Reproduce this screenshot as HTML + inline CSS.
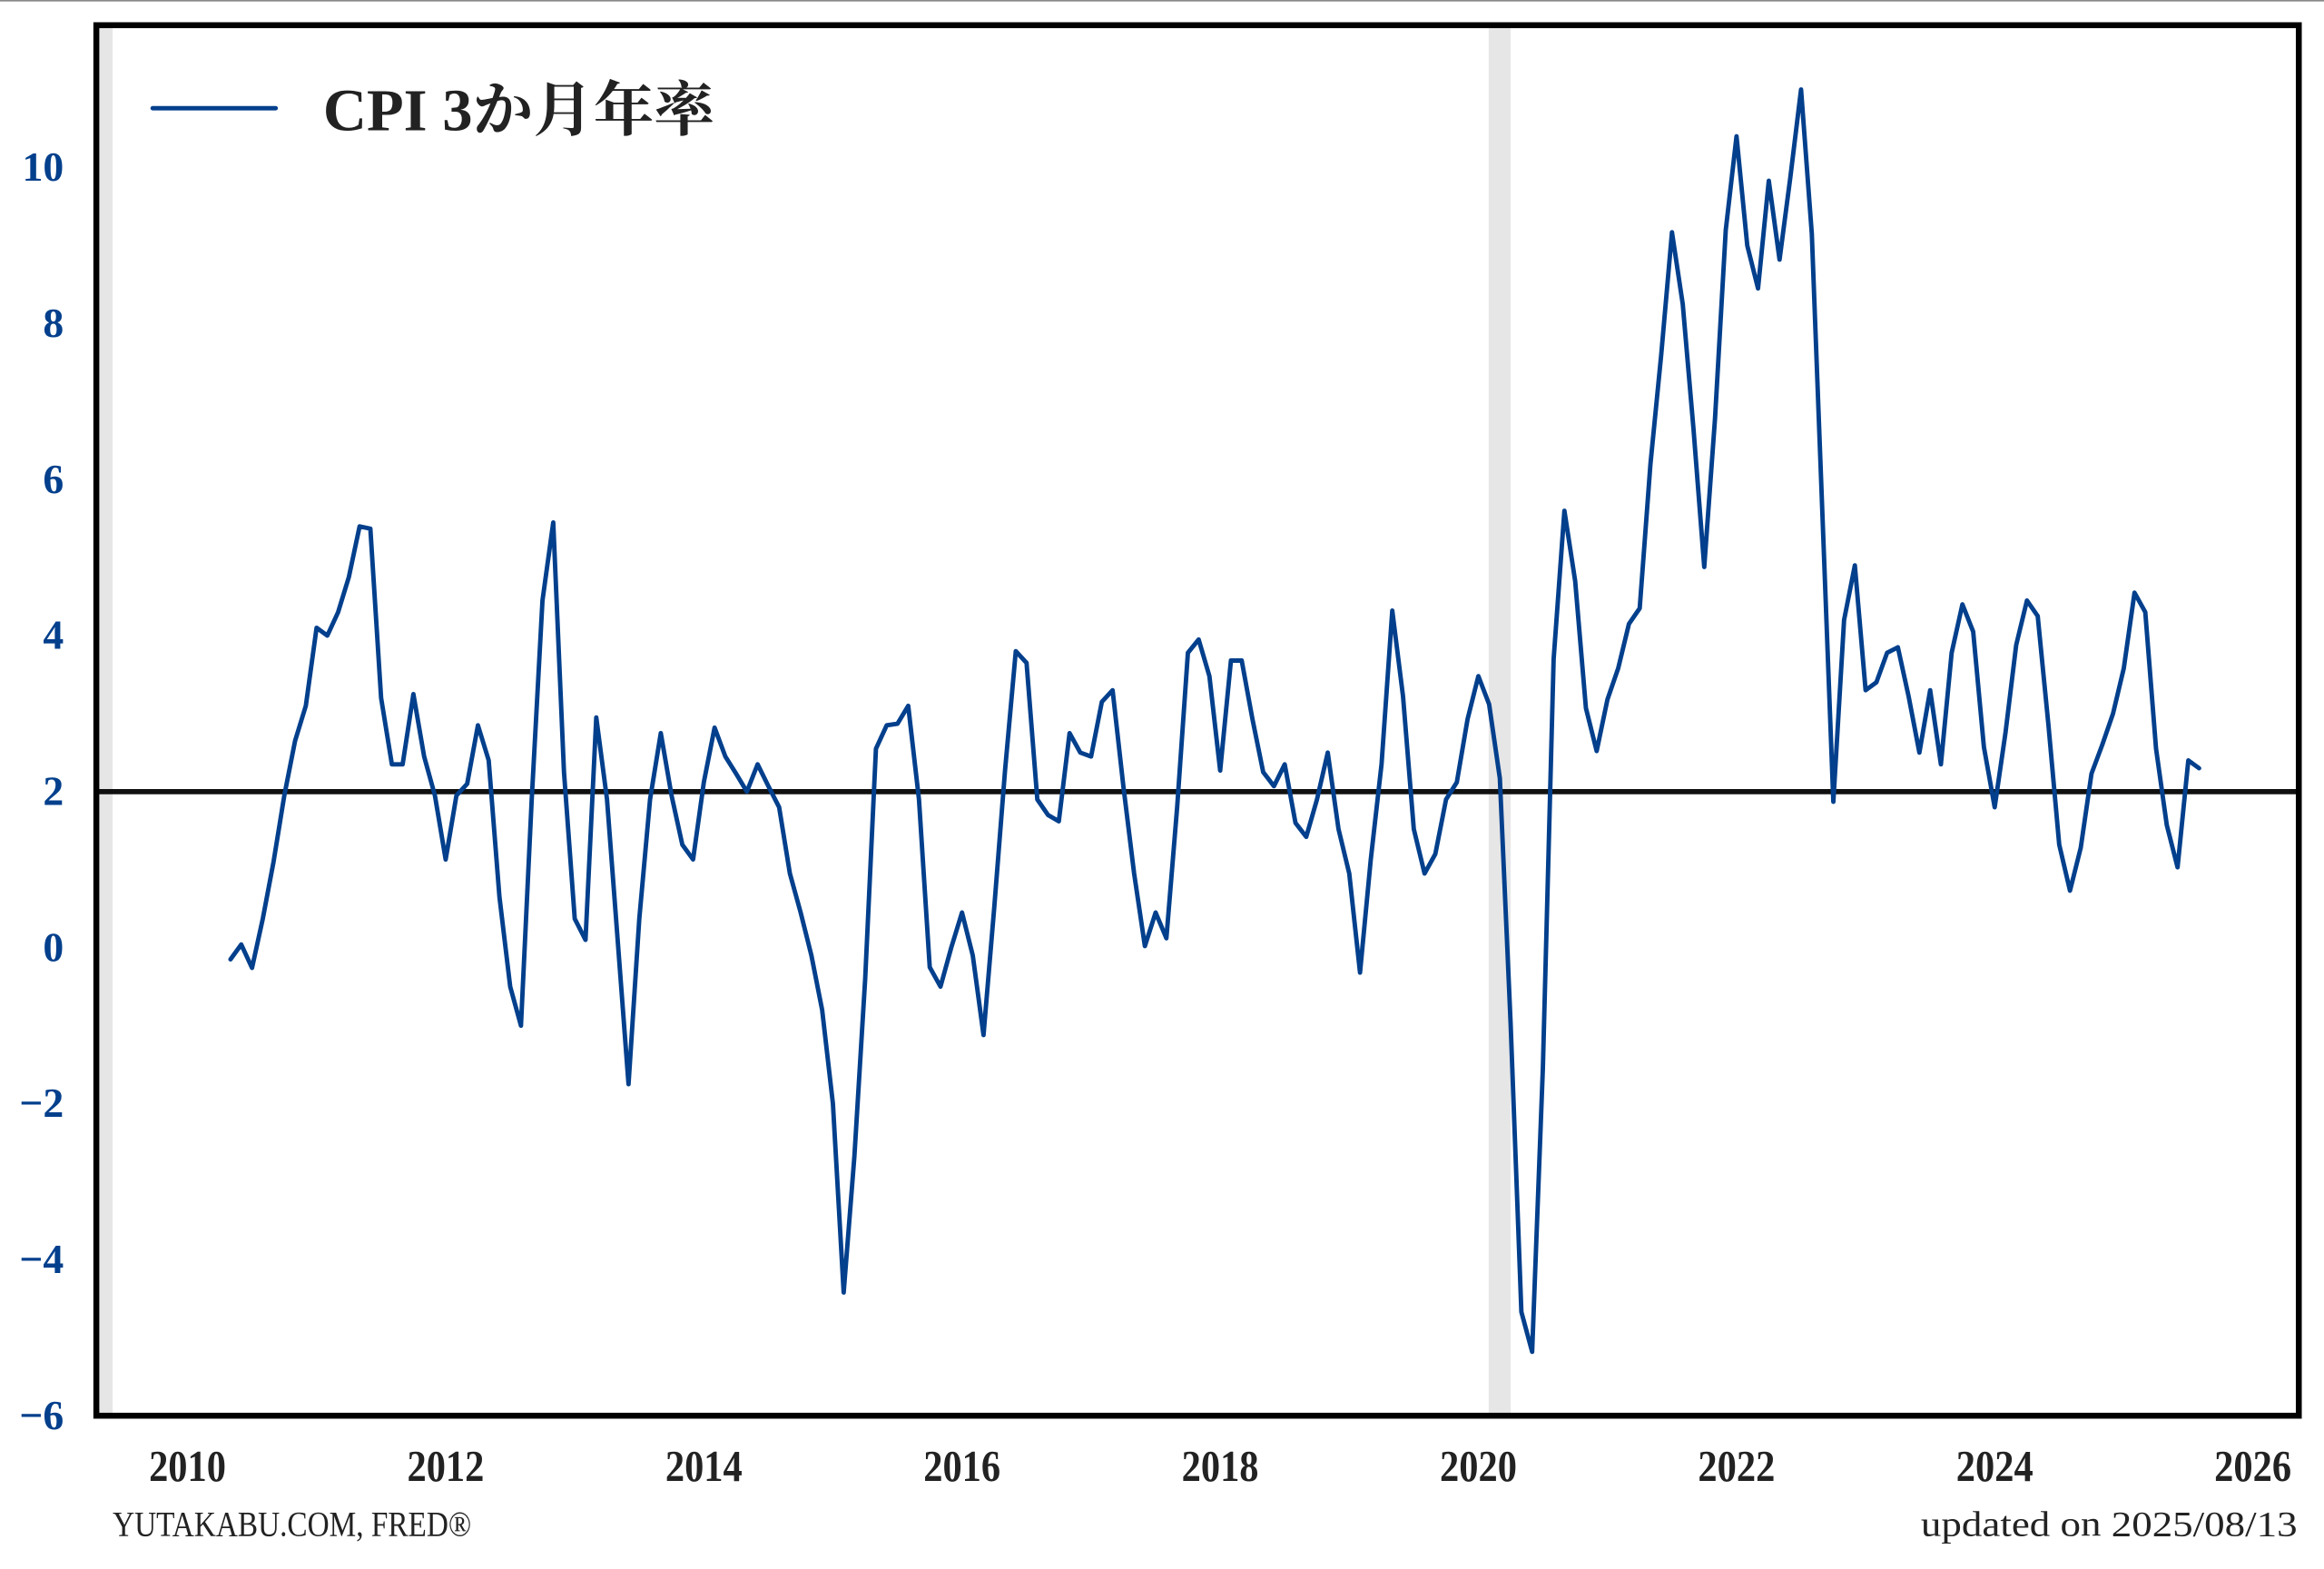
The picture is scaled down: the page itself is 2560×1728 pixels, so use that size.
<!DOCTYPE html>
<html><head><meta charset="utf-8"><style>
html,body{margin:0;padding:0;background:#fff;}
svg{display:block;}
text{font-family:"Liberation Serif","Noto Serif CJK SC",serif;font-weight:bold;}
text.thin{font-weight:normal;}
</style></head><body>
<svg id="chart" width="2560" height="1728" viewBox="0 0 1568 1058.4" xmlns="http://www.w3.org/2000/svg">
<rect x="0" y="0" width="1568" height="1058.4" fill="#fff"/>
<line x1="0" y1="0.5" x2="1568" y2="0.5" stroke="#888" stroke-width="1"/>
<g id="shades"></g>
<g id="zero"></g>
<g id="series"></g>
<rect x="65" y="17" width="1486" height="938" fill="none" stroke="#000" stroke-width="4"/>
<g id="yticks"></g>
<g id="xticks"></g>
<g>
<line x1="103" y1="73" x2="186" y2="73" stroke="#023f8c" stroke-width="3" stroke-linecap="round"/>
<text x="218" y="88" font-size="40" fill="#222" textLength="264" lengthAdjust="spacingAndGlyphs">CPI 3か月年率</text>
</g>
<text class="thin" style="font-weight:normal" x="76" y="1036" font-size="24" fill="#222" textLength="242" lengthAdjust="spacingAndGlyphs">YUTAKABU.COM, FRED®</text>
<text class="thin" style="font-weight:normal" x="1296" y="1036" font-size="24" fill="#222" textLength="254" lengthAdjust="spacingAndGlyphs">updated on 2025/08/13</text>
</svg>
<script>
const startYear = 2010 + 4/12;
const values = [-0.15,0.04,-0.26,0.37,1.1,1.95,2.65,3.1,4.1,4.0,4.3,4.75,5.4,5.37,3.2,2.35,2.35,3.25,2.45,1.95,1.13,1.95,2.1,2.85,2.4,0.65,-0.5,-1.0,1.9,4.45,5.45,2.25,0.37,0.1,2.95,1.9,0.08,-1.75,0.37,1.9,2.75,1.95,1.32,1.13,2.12,2.82,2.45,2.23,2.0,2.35,2.07,1.8,0.95,0.45,-0.1,-0.8,-2.0,-4.42,-2.67,-0.4,2.55,2.85,2.87,3.1,1.9,-0.25,-0.5,0,0.45,-0.1,-1.12,0.52,2.27,3.8,3.65,1.9,1.7,1.62,2.75,2.5,2.45,3.15,3.3,2.07,0.95,0.02,0.45,0.12,1.8,3.78,3.95,3.48,2.27,3.68,3.68,2.93,2.25,2.07,2.35,1.6,1.42,1.9,2.5,1.52,0.95,-0.32,1.13,2.35,4.32,3.22,1.52,0.95,1.2,1.9,2.12,2.93,3.48,3.12,2.17,-0.97,-4.67,-5.18,-1.54,3.7,5.6,4.7,3.07,2.52,3.18,3.58,4.15,4.35,6.2,7.6,9.17,8.25,6.65,4.88,6.78,9.2,10.4,9.0,8.45,9.83,8.82,9.87,11.0,9.15,5.5,1.87,4.2,4.9,3.3,3.4,3.78,3.85,3.22,2.5,3.3,2.35,3.78,4.4,4.05,2.57,1.8,2.75,3.88,4.45,4.25,2.85,1.32,0.73,1.28,2.23,2.6,3.0,3.58,4.55,4.3,2.55,1.57,1.03,2.4,2.3];
const yTicks = [10,8,6,4,2,0,-2,-4,-6];
const xTicks = [2010,2012,2014,2016,2018,2020,2022,2024,2026];
const recessions = [[2009.0,2009.42],[2020.08,2020.25]];
const refLine = 2;

const NS = "http://www.w3.org/2000/svg";
const X0 = 65, X1 = 1551;
function xScale(yr){ return 126.5 + (yr - 2010) * (1520 - 126.5) / 16; }
function yScale(v){ return 955 - (v + 6) * (955 - 113) / 16; }
function mk(tag, attrs, parent){ const e = document.createElementNS(NS, tag); for (const k in attrs) e.setAttribute(k, attrs[k]); parent.appendChild(e); return e; }

const sh = document.getElementById('shades');
recessions.forEach(r => {
  const a = Math.max(X0, xScale(r[0])), b = xScale(r[1]);
  const e = mk('rect', {x:a, y:17, width:b-a, height:938, fill:'#e6e6e6'}, sh);
  
  
});

const z = mk('line', {x1:X0, x2:X1, y1:yScale(refLine), y2:yScale(refLine), stroke:'#111', 'stroke-width':3.5}, document.getElementById('zero'));



const pts = values.map((v,i) => xScale(startYear + i/12).toFixed(2) + ',' + yScale(v).toFixed(2)).join(' ');
const pl = mk('polyline', {points:pts, fill:'none', stroke:'#023f8c', 'stroke-width':3, 'stroke-linejoin':'round', 'stroke-linecap':'round'}, document.getElementById('series'));



const yg = document.getElementById('yticks');
yTicks.forEach(t => {
  const e = mk('text', {x:43, y:yScale(t)+9, 'font-size':28, fill:'#023f8c', 'text-anchor':'end'}, yg);
  e.textContent = t < 0 ? '\u2212' + Math.abs(t) : String(t);
  
  
});
const xg = document.getElementById('xticks');
xTicks.forEach(t => {
  const e = mk('text', {x:xScale(t), y:999, 'font-size':30, fill:'#222', 'text-anchor':'middle', textLength:52, lengthAdjust:'spacingAndGlyphs'}, xg);
  e.textContent = String(t);
  
  
});
</script>
</body></html>
